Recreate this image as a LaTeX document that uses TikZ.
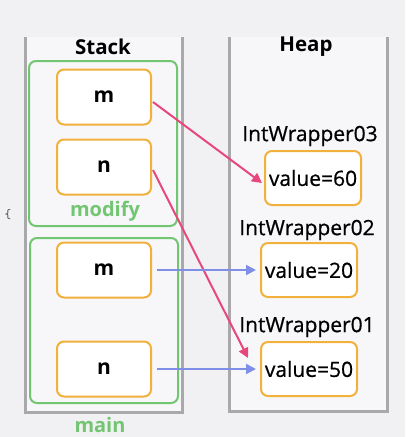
\documentclass[tikz,border=0pt]{standalone}
\usepackage{fontspec}
\setmainfont{Open Sans}
\newfontfamily\semi{Open Sans}[FakeBold=0.7]
\usetikzlibrary{arrows.meta,calc}
\definecolor{bg}{HTML}{F1F1F3}
\definecolor{inner}{HTML}{F7F7F9}
\definecolor{wall}{HTML}{A9A9AC}
\definecolor{grn}{HTML}{72C672}
\definecolor{org}{HTML}{F2B03C}
\definecolor{pnk}{HTML}{E8477C}
\definecolor{blu}{HTML}{7F8EE6}
\tikzset{
  frame/.style={draw=grn,line width=2pt,rounded corners=7pt},
  var/.style={draw=org,line width=2pt,rounded corners=7pt,fill=white,
    minimum width=94pt,minimum height=55pt,inner sep=0pt,
    font=\fontsize{21}{24}\selectfont\bfseries},
  obj/.style={draw=org,line width=2pt,rounded corners=7pt,fill=white,
    minimum width=96pt,minimum height=54pt,inner sep=0pt,
    font=\fontsize{21}{24}\semi},
  lbl/.style={font=\fontsize{21}{24}\semi},
  title/.style={font=\fontsize{20.5}{24}\selectfont\bfseries},
  flab/.style={text=grn,font=\fontsize{20}{24}\selectfont\bfseries},
  refr/.style={draw=pnk,line width=2pt,-{Triangle[length=10pt,width=10pt]}},
  refb/.style={draw=blu,line width=2pt,-{Triangle[length=10pt,width=10pt]}}
}
\begin{document}
\begin{tikzpicture}[x=1pt,y=-1pt]
\fill[bg] (0,0) rectangle (405,437);
\useasboundingbox (0,0) rectangle (405,437);
% containers
\fill[inner] (25,37) rectangle (182,412);
\draw[draw=wall,line width=3pt] (25,37) -- (25,412) -- (182,412) -- (182,37);
\fill[inner] (229,37) rectangle (387,411);
\draw[draw=wall,line width=3pt] (229,37) -- (229,411) -- (387,411) -- (387,37);
\node[title] (stk) at (103,47) {Stack};
\node[title] (hp) at (306,47) {Heap};
% frames
\draw[frame] (29,61) rectangle (177,226);
\draw[frame] (30,238) rectangle (178,403);
\node[flab] (fmod) at (105,211) {modify};
\node[flab] (fmain) at (100,425) {main};
\node[font=\ttfamily\fontsize{13}{14}\selectfont,text=black!75] (brace) at (8,215) {\{};
% variables
\node[var] (m1) at (104,97) {m};
\node[var] (n1) at (104,167) {n};
\node[var] (m2) at (104,270) {m};
\node[var] (n2) at (104,369) {n};
% heap objects
\node[lbl] (l3) at (310,136) {IntWrapper03};
\node[obj] (v60) at (313,178) {value=60};
\node[lbl] (l2) at (307,230) {IntWrapper02};
\node[obj] (v20) at (309,270) {value=20};
\node[lbl] (l1) at (307,327) {IntWrapper01};
\node[obj] (v50) at (309,369) {value=50};
% arrow endpoints
\coordinate (t60) at (262,183);
\coordinate (t50) at (248,358);
\coordinate (s1) at (153,102);
\coordinate (s2) at (153,170);
% connectors
\draw[refr] (s1) -- (t60);
\draw[refr] (s2) -- (t50);
\draw[refb,shorten <=5pt,shorten >=4pt] (m2.east) -- (v20.west);
\draw[refb,shorten <=5pt,shorten >=4pt] (n2.east) -- (v50.west);
\end{tikzpicture}
\end{document}
